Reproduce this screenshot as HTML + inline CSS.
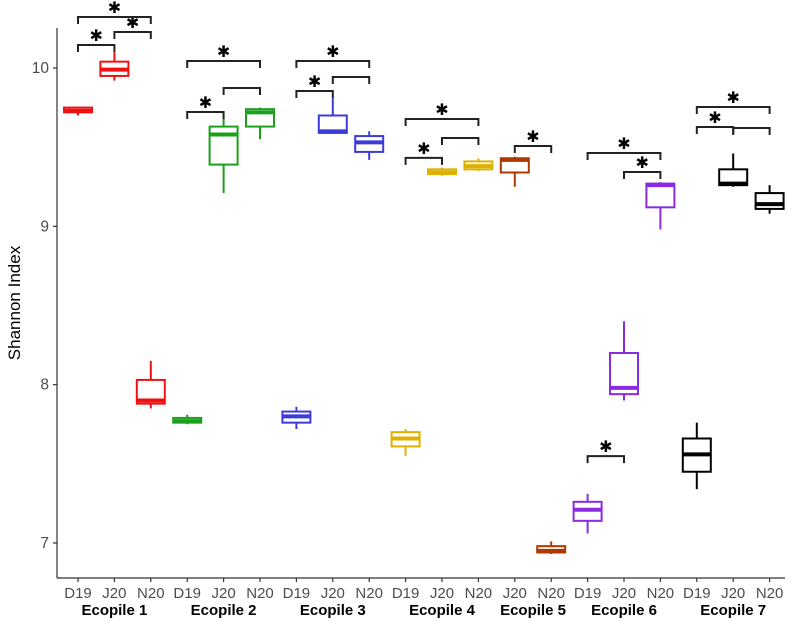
<!DOCTYPE html>
<html><head><meta charset="utf-8"><style>
body{margin:0;background:#fff;}
svg{display:block;font-family:"Liberation Sans",sans-serif;}
</style></head><body>
<svg id="chart" width="795" height="626" viewBox="0 0 795 626"></svg>
<script>
const categories=["D19","J20","N20","D19","J20","N20","D19","J20","N20","D19","J20","N20","J20","N20","D19","J20","N20","D19","J20","N20"];
const groupNames=["Ecopile 1","Ecopile 2","Ecopile 3","Ecopile 4","Ecopile 5","Ecopile 6","Ecopile 7"];
const groupOf=[0,0,0,1,1,1,2,2,2,3,3,3,4,4,5,5,5,6,6,6];
const colors=["#f01010","#1aa01a","#3c3cd8","#e0b000","#b03800","#8a2be2","#000000"];
const mins=[9.70,9.92,7.85,7.75,9.21,9.55,7.72,9.59,9.42,7.55,9.32,9.35,9.25,6.93,7.06,7.90,8.98,7.34,9.25,9.08];
const q1s=[9.72,9.95,7.88,7.76,9.39,9.63,7.76,9.59,9.47,7.61,9.33,9.36,9.34,6.94,7.14,7.94,9.12,7.45,9.26,9.11];
const meds=[9.73,9.99,7.90,7.77,9.58,9.72,7.80,9.60,9.53,7.66,9.34,9.38,9.42,6.95,7.21,7.98,9.26,7.56,9.27,9.14];
const q3s=[9.75,10.04,8.03,7.79,9.63,9.74,7.83,9.70,9.57,7.70,9.36,9.41,9.43,6.98,7.26,8.20,9.27,7.66,9.36,9.21];
const maxs=[9.75,10.10,8.15,7.81,9.68,9.75,7.86,9.81,9.60,7.72,9.37,9.43,9.44,7.01,7.31,8.40,9.28,7.76,9.46,9.26];
const yTicks=[7,8,9,10];
const brFrom=[0,1,0,3,3,4,6,6,7,9,9,10,12,14,15,14,17,17,18];
const brTo=[1,2,2,5,4,5,8,7,8,11,10,11,13,16,16,15,19,18,19];
const brY=[10.145,10.227,10.322,10.044,9.722,9.874,10.044,9.855,9.943,9.678,9.432,9.558,9.507,9.463,9.343,7.549,9.754,9.627,9.621];
const brStar=[1,1,1,1,1,0,1,1,0,1,1,0,1,1,1,1,1,1,0];

const svg=document.getElementById('chart');
const NS="http://www.w3.org/2000/svg";
const X0=57,Y0=578;
const xs=i=>78+i*36.4;
const ys=v=>68+(10-v)*158.33;
function mk(tag,attrs,parent){const e=document.createElementNS(NS,tag);for(const k in attrs)e.setAttribute(k,attrs[k]);(parent||svg).appendChild(e);return e;}

let ax=mk('line',{x1:X0,y1:28,x2:X0,y2:Y0,stroke:'#333','stroke-width':1.2});


ax=mk('line',{x1:X0,y1:Y0,x2:785,y2:Y0,stroke:'#333','stroke-width':1.2});



yTicks.forEach(t=>{
  const tk=mk('line',{x1:X0-4,x2:X0,y1:ys(t),y2:ys(t),stroke:'#333','stroke-width':1.2});
  
  
  const tl=mk('text',{x:X0-8,y:ys(t)+5,'text-anchor':'end','font-size':15.5,fill:'#4d4d4d'});
  tl.textContent=t;
  
  
});
const yt=mk('text',{x:20,y:303,'text-anchor':'middle','font-size':17,fill:'#000',transform:'rotate(-90 20 303)'});
yt.textContent='Shannon Index';



categories.forEach((c,i)=>{
  const tk=mk('line',{x1:xs(i),x2:xs(i),y1:Y0,y2:Y0+4,stroke:'#333','stroke-width':1.2});
  
  
  const tl=mk('text',{x:xs(i),y:Y0+20,'text-anchor':'middle','font-size':15,fill:'#4d4d4d'});
  tl.textContent=c;
  
  
});
groupNames.forEach((g,gi)=>{
  const idx=groupOf.map((v,i)=>v===gi?i:-1).filter(i=>i>=0);
  const cx=(xs(idx[0])+xs(idx[idx.length-1]))/2;
  const t=mk('text',{x:cx,y:Y0+37,'text-anchor':'middle','font-size':15,'font-weight':'bold',fill:'#000'});
  t.textContent=g;
  
  
});

categories.forEach((c,i)=>{
  const col=colors[groupOf[i]],x=xs(i),w=28;
  const g=mk('g',{stroke:col,'stroke-width':2,fill:'none'});
  
  
  mk('line',{x1:x,x2:x,y1:ys(maxs[i]),y2:ys(q3s[i])},g);
  mk('line',{x1:x,x2:x,y1:ys(q1s[i]),y2:ys(mins[i])},g);
  mk('rect',{x:x-w/2,y:ys(q3s[i]),width:w,height:Math.max(ys(q1s[i])-ys(q3s[i]),1)},g);
  mk('line',{x1:x-w/2,x2:x+w/2,y1:ys(meds[i]),y2:ys(meds[i]),'stroke-width':4},g);
});

brFrom.forEach((f,k)=>{
  const y=ys(brY[k]),x1=xs(f),x2=xs(brTo[k]);
  const p=mk('path',{d:`M${x1},${y+7}V${y}H${x2}V${y+7}`,stroke:'#222','stroke-width':2,fill:'none'});
  
  
  if(brStar[k]){
    const s=mk('text',{x:(x1+x2)/2,y:y-4,'text-anchor':'middle','font-size':16,fill:'#000','font-family':'DejaVu Sans, sans-serif'});
    s.textContent='✱';
    
    
  }
});
</script>
</body></html>
